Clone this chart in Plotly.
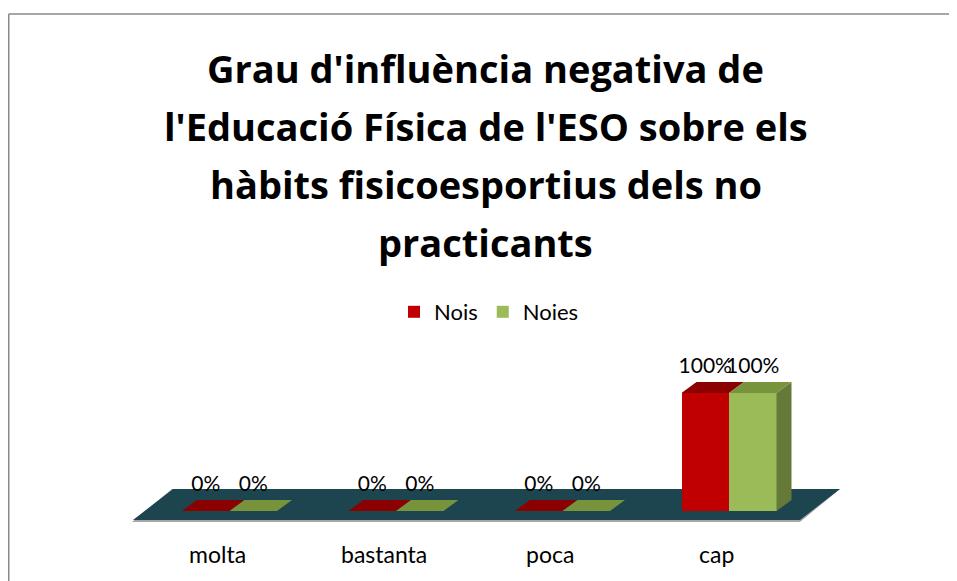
import plotly.graph_objects as go

# ---- data ----
categories = ["molta", "bastanta", "poca", "cap"]
series_names = ["Nois", "Noies"]
nois_values = [0, 0, 0, 100]
noies_values = [0, 0, 0, 100]
title_lines = [
    "Grau d'influència negativa de",
    "l'Educació Física de l'ESO sobre els",
    "hàbits fisicoesportius dels no",
    "practicants",
]

# ---- style / geometry (screen pixels of the reference) ----
OFF = 8                              # page body margin
W, H = 957 - OFF, 581 - OFF
X0_PX, X_UNIT_PX = 229.5 - OFF, 166.5
Y0_PX, Y_UNIT_PX = 511.0 - OFF, 1.18
BAR_W = 0.2853
DX = 15 / X_UNIT_PX
DY = 11 / Y_UNIT_PX
LABEL_OFF = 14.5 / Y_UNIT_PX

front_cols = ["#C00000", "#9BBB59"]
top_cols = ["#8B0000", "#77933C"]
side_cols = ["#8F0000", "#657A38"]
FONT = "Lato"
TITLE_FONT = "Open Sans"


def px_x(p):
    return (p - OFF) / W


def px_y(p):
    return 1 - (p - OFF) / H


xr = [(0 - X0_PX) / X_UNIT_PX, (W - X0_PX) / X_UNIT_PX]
yr = [(Y0_PX - H) / Y_UNIT_PX, Y0_PX / Y_UNIT_PX]

fig = go.Figure()
all_vals = [nois_values, noies_values]
offsets = [-BAR_W / 2, BAR_W / 2]

# front faces (bars)
for s, (name, vals) in enumerate(zip(series_names, all_vals)):
    fig.add_trace(go.Bar(
        x=[i + offsets[s] for i in range(len(categories))],
        y=vals, width=BAR_W, name=name,
        marker=dict(color=front_cols[s], line=dict(width=0)),
        hoverinfo="skip",
    ))

# side and top faces
for s, vals in enumerate(all_vals):
    for i, v in enumerate(vals):
        xl = i + offsets[s] - BAR_W / 2
        xr_ = i + offsets[s] + BAR_W / 2
        lo = 0
        if s == 0:
            lo = max(all_vals[1][i], 0)
        if v > lo:
            fig.add_trace(go.Scatter(
                x=[xr_, xr_ + DX, xr_ + DX, xr_, xr_],
                y=[lo, lo + DY, v + DY, v, lo],
                fill="toself", fillcolor=side_cols[s], mode="lines",
                line=dict(width=0, color=side_cols[s]),
                showlegend=False, hoverinfo="skip"))
        fig.add_trace(go.Scatter(
            x=[xl, xr_, xr_ + DX, xl + DX, xl],
            y=[v, v, v + DY, v + DY, v],
            fill="toself", fillcolor=top_cols[s], mode="lines",
            line=dict(width=0, color=top_cols[s]),
            showlegend=False, hoverinfo="skip"))

# data labels
for s, vals in enumerate(all_vals):
    fig.add_trace(go.Scatter(
        x=[i + offsets[s] for i in range(len(vals))],
        y=[v + DY + LABEL_OFF for v in vals],
        text=[f"{v:.0f}%" for v in vals],
        mode="text", textposition="middle center",
        textfont=dict(family=FONT, size=21, color="#000000"),
        showlegend=False, hoverinfo="skip"))

# floor
n = len(categories)
fl_front_l, fl_front_r = -0.5796, n - 1 + 0.4264
fl_back_l, fl_back_r = -0.3393, n - 1 + 0.6667
fl_front_y, fl_back_y = (Y0_PX - (520 - OFF)) / Y_UNIT_PX, (Y0_PX - (489 - OFF)) / Y_UNIT_PX
sh = 2 / Y_UNIT_PX
sx = 1 / X_UNIT_PX
shapes = [
    dict(type="path", xref="x", yref="y", layer="below",
         path=f"M{fl_front_l - sx},{fl_front_y - sh} L{fl_front_r},{fl_front_y - sh} "
              f"L{fl_back_r},{fl_back_y} L{fl_back_l - sx},{fl_back_y} Z",
         fillcolor="#A6A6A6", line=dict(width=0)),
    dict(type="path", xref="x", yref="y", layer="below",
         path=f"M{fl_front_l},{fl_front_y} L{fl_front_r},{fl_front_y} "
              f"L{fl_back_r},{fl_back_y} L{fl_back_l},{fl_back_y} Z",
         fillcolor="#1C4550", line=dict(width=0)),
    # chart border
    dict(type="line", xref="paper", yref="paper",
         x0=0.0008, x1=1.01, y0=px_y(14), y1=px_y(14),
         line=dict(color="#8A8A8A", width=1.5)),
    dict(type="line", xref="paper", yref="paper",
         x0=0.0008, x1=0.0008, y0=px_y(14), y1=-0.01,
         line=dict(color="#8A8A8A", width=1.5)),
]

annotations = []
title_centers_px = [67.5, 125.5, 184, 242]
for line, cy in zip(title_lines, title_centers_px):
    annotations.append(dict(
        text=f"<b>{line}</b>", xref="paper", yref="paper",
        x=px_x(486), y=px_y(cy), xanchor="center", yanchor="middle",
        showarrow=False, font=dict(family=TITLE_FONT, size=38, color="#000000")))

label_y = (Y0_PX - (554 - OFF)) / Y_UNIT_PX
for i, c in enumerate(categories):
    annotations.append(dict(
        text=c, x=i - 0.075, y=label_y, xref="x", yref="y",
        xanchor="center", yanchor="middle", showarrow=False,
        font=dict(family=FONT, size=23, color="#000000")))

fig.update_layout(
    width=W, height=H,
    margin=dict(l=0, r=0, t=0, b=0, pad=0),
    paper_bgcolor="#FFFFFF", plot_bgcolor="#FFFFFF",
    barmode="overlay", bargap=0,
    xaxis=dict(range=xr, visible=False, fixedrange=True),
    yaxis=dict(range=yr, visible=False, fixedrange=True),
    showlegend=True,
    legend=dict(orientation="h", x=px_x(394), xanchor="left",
                y=px_y(312), yanchor="middle",
                font=dict(family=FONT, size=22, color="#000000"),
                bgcolor="rgba(0,0,0,0)", itemclick=False, itemdoubleclick=False),
    shapes=shapes, annotations=annotations,
)

fig.write_html("out.html")
